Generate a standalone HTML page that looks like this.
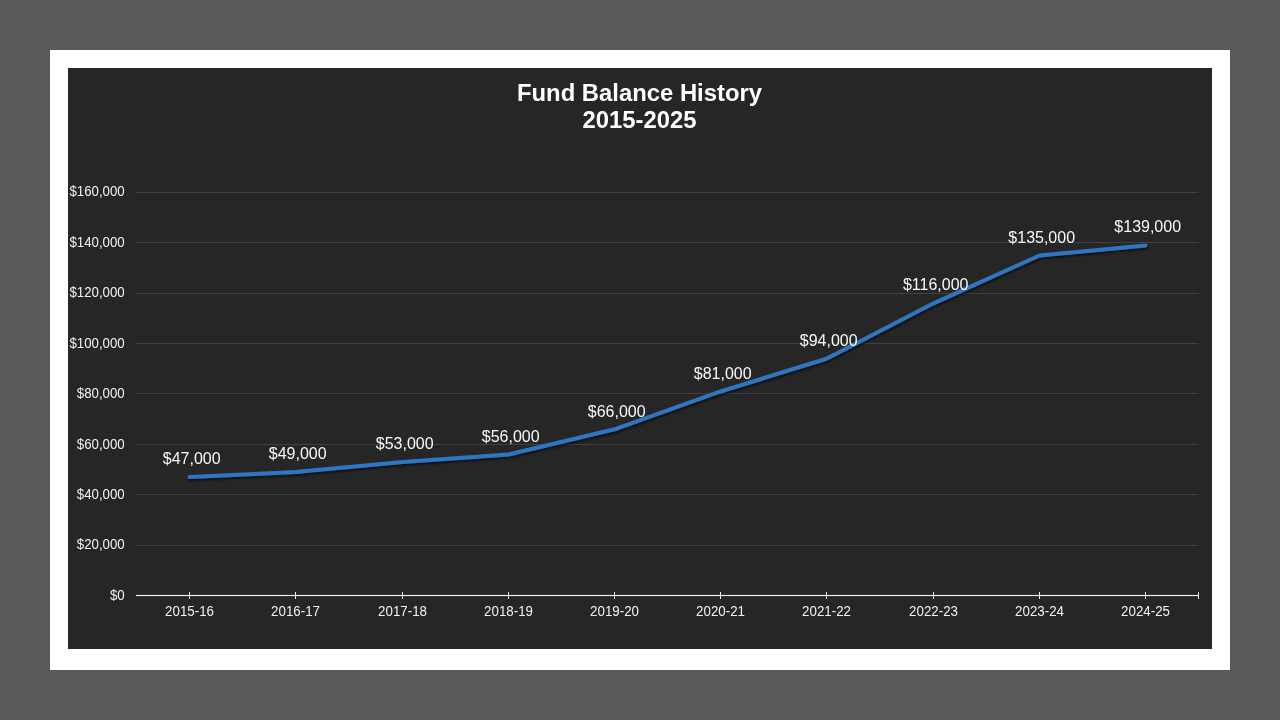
<!DOCTYPE html><html><head><meta charset="utf-8"><style>html,body{margin:0;padding:0;background:#595959;}svg{display:block;will-change:transform}text{font-family:"Liberation Sans",sans-serif}</style></head><body>
<svg width="1280" height="720" viewBox="0 0 1280 720">
<defs><filter id="sh" x="-5%" y="-20%" width="110%" height="140%"><feGaussianBlur in="SourceAlpha" stdDeviation="1.1"/><feOffset dx="0.6" dy="1.6" result="b"/><feFlood flood-color="#000" flood-opacity="0.6"/><feComposite in2="b" operator="in"/><feMerge><feMergeNode/><feMergeNode in="SourceGraphic"/></feMerge></filter></defs>
<rect x="0" y="0" width="1280" height="720" fill="#595959"/>
<rect x="50" y="50" width="1180" height="620" fill="#ffffff"/>
<rect x="68" y="68" width="1144" height="581" fill="#262626"/>
<text transform="translate(639.5 101) scale(0.994 1)" text-anchor="middle" font-size="24" font-weight="bold" fill="#ffffff">Fund Balance History</text>
<text transform="translate(639.5 128) scale(0.994 1)" text-anchor="middle" font-size="24" font-weight="bold" fill="#ffffff">2015-2025</text>
<rect x="136" y="192" width="1062.5" height="1" fill="#404040"/>
<rect x="136" y="242" width="1062.5" height="1" fill="#404040"/>
<rect x="136" y="293" width="1062.5" height="1" fill="#404040"/>
<rect x="136" y="343" width="1062.5" height="1" fill="#404040"/>
<rect x="136" y="393" width="1062.5" height="1" fill="#404040"/>
<rect x="136" y="444" width="1062.5" height="1" fill="#404040"/>
<rect x="136" y="494" width="1062.5" height="1" fill="#404040"/>
<rect x="136" y="545" width="1062.5" height="1" fill="#404040"/>
<text transform="translate(124.7 196.15) scale(0.995 1.1)" text-anchor="end" font-size="13.33" fill="#f2f2f2">$160,000</text>
<text transform="translate(124.7 247.15) scale(0.995 1.1)" text-anchor="end" font-size="13.33" fill="#f2f2f2">$140,000</text>
<text transform="translate(124.7 297.15) scale(0.995 1.1)" text-anchor="end" font-size="13.33" fill="#f2f2f2">$120,000</text>
<text transform="translate(124.7 348.15) scale(0.995 1.1)" text-anchor="end" font-size="13.33" fill="#f2f2f2">$100,000</text>
<text transform="translate(124.7 398.15) scale(0.995 1.1)" text-anchor="end" font-size="13.33" fill="#f2f2f2">$80,000</text>
<text transform="translate(124.7 449.15) scale(0.995 1.1)" text-anchor="end" font-size="13.33" fill="#f2f2f2">$60,000</text>
<text transform="translate(124.7 499.15) scale(0.995 1.1)" text-anchor="end" font-size="13.33" fill="#f2f2f2">$40,000</text>
<text transform="translate(124.7 549.15) scale(0.995 1.1)" text-anchor="end" font-size="13.33" fill="#f2f2f2">$20,000</text>
<text transform="translate(124.7 600.15) scale(0.995 1.1)" text-anchor="end" font-size="13.33" fill="#f2f2f2">$0</text>
<rect x="136" y="595" width="1063" height="1" fill="#f0f0f0"/>
<rect x="136" y="594.75" width="1063" height="1.5" fill="#f0f0f0" opacity="0.35"/>
<rect x="189" y="592" width="1" height="7" fill="#f0f0f0"/>
<rect x="295" y="592" width="1" height="7" fill="#f0f0f0"/>
<rect x="402" y="592" width="1" height="7" fill="#f0f0f0"/>
<rect x="508" y="592" width="1" height="7" fill="#f0f0f0"/>
<rect x="614" y="592" width="1" height="7" fill="#f0f0f0"/>
<rect x="720" y="592" width="1" height="7" fill="#f0f0f0"/>
<rect x="826" y="592" width="1" height="7" fill="#f0f0f0"/>
<rect x="933" y="592" width="1" height="7" fill="#f0f0f0"/>
<rect x="1039" y="592" width="1" height="7" fill="#f0f0f0"/>
<rect x="1145" y="592" width="1" height="7" fill="#f0f0f0"/>
<rect x="1198" y="592" width="1" height="7" fill="#f0f0f0"/>
<text transform="translate(189.50 616) scale(1 1.1)" text-anchor="middle" font-size="13.33" fill="#f2f2f2">2015-16</text>
<text transform="translate(295.50 616) scale(1 1.1)" text-anchor="middle" font-size="13.33" fill="#f2f2f2">2016-17</text>
<text transform="translate(402.50 616) scale(1 1.1)" text-anchor="middle" font-size="13.33" fill="#f2f2f2">2017-18</text>
<text transform="translate(508.50 616) scale(1 1.1)" text-anchor="middle" font-size="13.33" fill="#f2f2f2">2018-19</text>
<text transform="translate(614.50 616) scale(1 1.1)" text-anchor="middle" font-size="13.33" fill="#f2f2f2">2019-20</text>
<text transform="translate(720.50 616) scale(1 1.1)" text-anchor="middle" font-size="13.33" fill="#f2f2f2">2020-21</text>
<text transform="translate(826.50 616) scale(1 1.1)" text-anchor="middle" font-size="13.33" fill="#f2f2f2">2021-22</text>
<text transform="translate(933.50 616) scale(1 1.1)" text-anchor="middle" font-size="13.33" fill="#f2f2f2">2022-23</text>
<text transform="translate(1039.50 616) scale(1 1.1)" text-anchor="middle" font-size="13.33" fill="#f2f2f2">2023-24</text>
<text transform="translate(1145.50 616) scale(1 1.1)" text-anchor="middle" font-size="13.33" fill="#f2f2f2">2024-25</text>
<polyline points="189.50,477.12 295.50,472.08 402.50,462.01 508.50,454.45 614.50,429.26 720.50,391.48 826.50,358.74 933.50,303.32 1039.50,255.47 1145.50,245.39" fill="none" stroke="#2e76c1" stroke-width="4" stroke-linecap="round" stroke-linejoin="round" filter="url(#sh)"/>
<text transform="translate(191.70 464.10) scale(1 1.03)" text-anchor="middle" font-size="16" fill="#f8f8f8">$47,000</text>
<text transform="translate(297.70 459.10) scale(1 1.03)" text-anchor="middle" font-size="16" fill="#f8f8f8">$49,000</text>
<text transform="translate(404.70 449.10) scale(1 1.03)" text-anchor="middle" font-size="16" fill="#f8f8f8">$53,000</text>
<text transform="translate(510.70 442.10) scale(1 1.03)" text-anchor="middle" font-size="16" fill="#f8f8f8">$56,000</text>
<text transform="translate(616.70 417.10) scale(1 1.03)" text-anchor="middle" font-size="16" fill="#f8f8f8">$66,000</text>
<text transform="translate(722.70 379.10) scale(1 1.03)" text-anchor="middle" font-size="16" fill="#f8f8f8">$81,000</text>
<text transform="translate(828.70 346.10) scale(1 1.03)" text-anchor="middle" font-size="16" fill="#f8f8f8">$94,000</text>
<text transform="translate(935.70 290.10) scale(1 1.03)" text-anchor="middle" font-size="16" fill="#f8f8f8">$116,000</text>
<text transform="translate(1041.70 243.10) scale(1 1.03)" text-anchor="middle" font-size="16" fill="#f8f8f8">$135,000</text>
<text transform="translate(1147.70 232.10) scale(1 1.03)" text-anchor="middle" font-size="16" fill="#f8f8f8">$139,000</text>
</svg></body></html>
